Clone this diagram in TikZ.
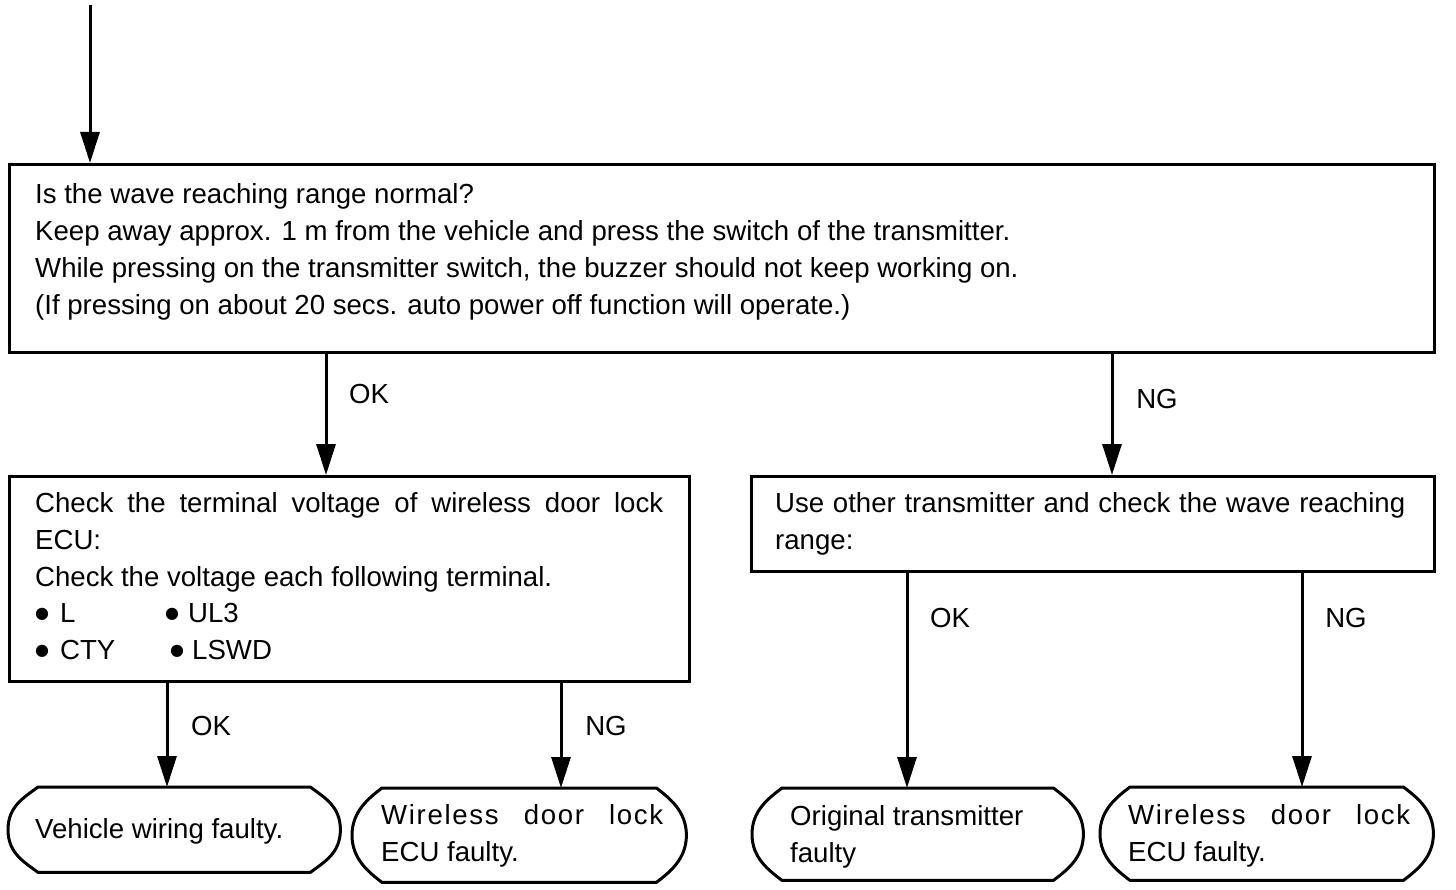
\documentclass[tikz,border=0pt]{standalone}
\usepackage{fontspec}
\setmainfont{Liberation Sans}
\newfontfamily\dejavu{DejaVu Sans}
\usetikzlibrary{arrows.meta,calc}
\newcommand\bul{\raisebox{3.5pt}{\dejavu\fontsize{16}{16}\selectfont ●}}
\newcommand\spaced{\addfontfeature{LetterSpace=6}}
\newcommand\termpath[1]{%
\draw[line width=3pt] ($(#1.north west)+(30,0)$) -- ($(#1.north east)+(-30,0)$)
 .. controls ($(#1.north east)+(-17,10)$) and ($(#1.east)+(0,-24)$) .. (#1.east)
 .. controls ($(#1.east)+(0,24)$) and ($(#1.south east)+(-17,-10)$) .. ($(#1.south east)+(-30,0)$)
 -- ($(#1.south west)+(30,0)$)
 .. controls ($(#1.south west)+(17,-10)$) and ($(#1.west)+(0,24)$) .. (#1.west)
 .. controls ($(#1.west)+(0,-24)$) and ($(#1.north west)+(17,10)$) .. cycle;}
\begin{document}
\begin{tikzpicture}[x=1pt,y=-1pt,
  box/.style={draw, line width=3pt, inner sep=0pt, anchor=north west},
  tbox/.style={inner sep=0pt, anchor=north west},
  arr/.style={line width=3pt, -{Triangle[length=31pt,width=19pt]}},
  txt/.style={anchor=base west, inner sep=0pt, font=\fontsize{27.6}{37}\selectfont},
  lbl/.style={inner sep=0pt, font=\fontsize{27.6}{37}\selectfont}]
\useasboundingbox[fill=white] (0,0) rectangle (1456,890);

% boxes
\node[box, minimum width=1425pt, minimum height=188pt] (main) at (8,163) {};
\node[box, minimum width=680pt, minimum height=205pt] (chk) at (8,475) {};
\node[box, minimum width=683pt, minimum height=95pt] (oth) at (750,475) {};
\node[tbox, minimum width=332pt, minimum height=85pt] (t1) at (8,787) {};
\node[tbox, minimum width=334pt, minimum height=94pt] (t2) at (352,788) {};
\node[tbox, minimum width=331pt, minimum height=92pt] (t3) at (752,788) {};
\node[tbox, minimum width=333pt, minimum height=93pt] (t4) at (1100,787) {};
\termpath{t1}
\termpath{t2}
\termpath{t3}
\termpath{t4}

% main text
\node[txt] (m1) at (35,204) {Is the wave reaching range normal?};
\node[txt] (m2) at (35,241) {Keep away approx. 1 m from the vehicle and press the switch of the transmitter.};
\node[txt] (m3) at (35,278) {While pressing on the transmitter switch, the buzzer should not keep working on.};
\node[txt] (m4) at (35,315) {(If pressing on about 20 secs. auto power off function will operate.)};

% check box text
\node[txt] (c1) at (35,512) {\makebox[628pt][s]{Check the terminal voltage of wireless door lock}};
\node[txt] (c2) at (35,549) {ECU:};
\node[txt] (c3) at (35,586) {Check the voltage each following terminal.};
\node[txt] (c4) at (35,622) {\makebox[25pt][l]{\bul}L};
\node[txt] (c5) at (165,622) {\makebox[23pt][l]{\bul}UL3};
\node[txt] (c6) at (35,659) {\makebox[25pt][l]{\bul}CTY};
\node[txt] (c7) at (170,659) {\makebox[22pt][l]{\bul}LSWD};

% other box text
\node[txt] (o1) at (775,512) {\makebox[630pt][s]{Use other transmitter and check the wave reaching}};
\node[txt] (o2) at (775,549) {range:};

% terminal texts
\node[txt] (a1) at (35,838) {Vehicle wiring faulty.};
\node[txt] (b1) at (381,824) {\makebox[282pt][s]{\spaced Wireless door lock}};
\node[txt] (b2) at (381,861) {ECU faulty.};
\node[txt] (d1) at (790,825) {Original transmitter};
\node[txt] (d2) at (790,862) {faulty};
\node[txt] (e1) at (1128,824) {\makebox[282pt][s]{\spaced Wireless door lock}};
\node[txt] (e2) at (1128,861) {ECU faulty.};

% connectors
\coordinate (start) at (90,5);
\draw[arr] (start) -- (start |- main.north);
\draw[arr] (326,0 |- main.south) -- (326,0 |- chk.north);
\draw[arr] (1112,0 |- main.south) -- (1112,0 |- oth.north);
\draw[arr] (167,0 |- chk.south) -- (167,0 |- t1.north);
\draw[arr] (561,0 |- chk.south) -- (561,0 |- t2.north);
\draw[arr] (907,0 |- oth.south) -- (907,0 |- t3.north);
\draw[arr] (1302,0 |- oth.south) -- (1302,0 |- t4.north);

% labels
\node[lbl] (l1) at (369,394) {OK};
\node[lbl] (l2) at (1157,399) {NG};
\node[lbl] (l3) at (211,726) {OK};
\node[lbl] (l4) at (606,726) {NG};
\node[lbl] (l5) at (950,618) {OK};
\node[lbl] (l6) at (1346,618) {NG};
\end{tikzpicture}
\end{document}
